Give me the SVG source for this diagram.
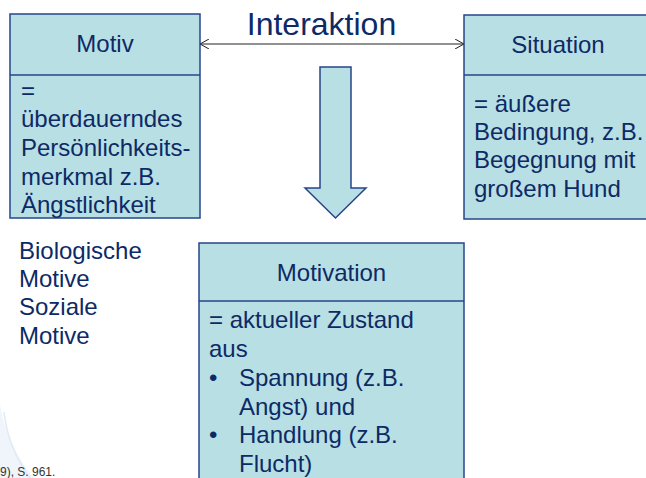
<svg xmlns="http://www.w3.org/2000/svg" width="646" height="478" viewBox="0 0 646 478">
  <defs>
    <style>
      .box { fill: #b8dfe3; stroke: #26468a; stroke-width: 1.5; }
      .div { stroke: #26468a; stroke-width: 1.5; }
      .t { font-family: "Liberation Sans", Arial, sans-serif; font-size: 24px; fill: #0d2a66; }
      .title { text-anchor: middle; }
      .conn { stroke: #222; stroke-width: 1; fill: none; }
    </style>
    <marker id="chev" viewBox="0 0 10 10" refX="10" refY="5" markerWidth="10" markerHeight="10" markerUnits="userSpaceOnUse" orient="auto-start-reverse">
      <path d="M1,0 L10,5 L1,10" fill="none" stroke="#222" stroke-width="1"/>
    </marker>
  </defs>
  <rect width="646" height="478" fill="#ffffff"/>

  <g id="swoosh" opacity="0.6">
    <path d="M0,405 Q6,445 34,478 L0,478 Z" fill="#e6f0f7"/>
    <path d="M4,412 Q8,448 30,478" fill="none" stroke="#c9dded" stroke-width="1.5"/>
  </g>

  <g id="title-interaktion">
    <text class="t" x="321.5" y="35" text-anchor="middle" style="font-size:32px">Interaktion</text>
  </g>

  <g id="connectors">
    <line class="conn" x1="200" y1="44" x2="464" y2="44" marker-start="url(#chev)" marker-end="url(#chev)"/>
    <polygon points="320,67 351,67 351,188 366,188 335.5,218 305,188 320,188" fill="#b8dfe3" stroke="#26468a" stroke-width="1.5"/>
  </g>

  <g id="motiv">
    <rect class="box" x="10" y="14" width="190" height="204"/>
    <line class="div" x1="10" y1="75" x2="200" y2="75"/>
    <text class="t title" x="105" y="52">Motiv</text>
    <text class="t" x="21" y="99">=</text>
    <text class="t" x="21" y="127">überdauerndes</text>
    <text class="t" x="21" y="156">Persönlichkeits-</text>
    <text class="t" x="21" y="185">merkmal z.B.</text>
    <text class="t" x="21" y="213">Ängstlichkeit</text>
  </g>

  <g id="situation">
    <rect class="box" x="464" y="15" width="188" height="204"/>
    <line class="div" x1="464" y1="75" x2="652" y2="75"/>
    <text class="t title" x="558" y="53">Situation</text>
    <text class="t" x="474" y="112">= äußere</text>
    <text class="t" x="474" y="140">Bedingung, z.B.</text>
    <text class="t" x="474" y="168">Begegnung mit</text>
    <text class="t" x="474" y="197">großem Hund</text>
  </g>

  <g id="motive-list">
    <text class="t" x="19" y="259">Biologische</text>
    <text class="t" x="19" y="287">Motive</text>
    <text class="t" x="19" y="315">Soziale</text>
    <text class="t" x="19" y="344">Motive</text>
  </g>

  <g id="motivation">
    <rect class="box" x="199" y="243" width="265" height="245"/>
    <line class="div" x1="199" y1="301" x2="464" y2="301"/>
    <text class="t title" x="331.5" y="281">Motivation</text>
    <text class="t" x="209" y="328">= aktueller Zustand</text>
    <text class="t" x="209" y="357">aus</text>
    <text class="t" x="209" y="386">•</text>
    <text class="t" x="239" y="386">Spannung (z.B.</text>
    <text class="t" x="239" y="415">Angst) und</text>
    <text class="t" x="209" y="443">•</text>
    <text class="t" x="239" y="443">Handlung (z.B.</text>
    <text class="t" x="239" y="472">Flucht)</text>
  </g>

  <g id="footnote">
    <text x="0" y="476" style="font-family:'Liberation Sans', Arial, sans-serif; font-size:12px; fill:#333">9), S. 961.</text>
  </g>
</svg>
